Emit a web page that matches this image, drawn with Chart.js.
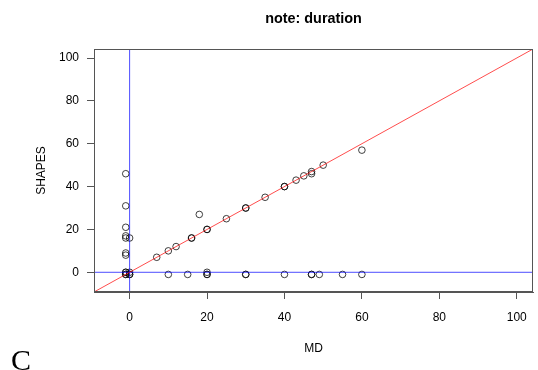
<!DOCTYPE html>
<html>
<head>
<meta charset="utf-8">
<script src="https://cdn.jsdelivr.net/npm/chart.js@4"></script>
<style>
  body { margin: 0; background: #fff; }
  #wrap { position: relative; width: 538px; height: 370px; }
  #panel { position: absolute; left: 11px; top: 345px; font: 30px/30px "Liberation Serif", serif; color: #000; }
</style>
</head>
<body>
<div id="wrap">
  <canvas id="scatterChart" width="538" height="370"></canvas>
  <div id="panel">C</div>
</div>
<script>
// MD (x) and SHAPES (y) pairs, -1 looks like the "missing" code
const md =     [-1, -1, -1, -1, -1, -1, -1, -1, -1, -1, -1, 0, 0, 0, 0,
                7, 10, 12, 16, 16, 18, 20, 20, 25, 30, 30, 35, 40, 40, 43, 45, 47, 47, 50, 60,
                10, 15, 20, 20, 20, 30, 30, 40, 47, 47, 49, 55, 60];
const shapes = [46, 31, 21, 17, 16, 9, 8, 0, 0, -1, -1, 16, 0, -1, -1,
                7, 10, 12, 16, 16, 27, 20, 20, 25, 30, 30, 35, 40, 40, 43, 45, 46, 47, 50, 57,
                -1, -1, 0, -1, -1, -1, -1, -1, -1, -1, -1, -1, -1];

const tickValues = [0, 20, 40, 60, 80, 100];
const axisMin = -9.2;
const axisMax = 104.2;
const chartTitle = 'note: duration';

const points = md.map((x, i) => ({ x: x, y: shapes[i] }));

const ctx = document.getElementById('scatterChart').getContext('2d');

// box round the plot area (R's box()) and the title centred over the plot
const boxPlugin = {
    id: 'box',
    afterDraw(chart) {
        const a = chart.chartArea;
        const c = chart.ctx;
        c.save();
        c.strokeStyle = '#555';
        c.lineWidth = 1;
        c.strokeRect(Math.round(a.left) + 0.5, Math.round(a.top) + 0.5,
                     Math.round(a.right - a.left) - 1, Math.round(a.bottom - a.top) - 1);
        c.fillStyle = '#000';
        c.font = 'bold 14.4px "Liberation Sans"';
        c.textAlign = 'center';
        c.textBaseline = 'middle';
        c.fillText(chartTitle, (a.left + a.right) / 2, 19);
        c.restore();
    }
};

function axisOptions(titleText, isX) {
    return {
        type: 'linear',
        min: axisMin,
        max: axisMax,
        afterBuildTicks: (scale) => { scale.ticks = tickValues.map(v => ({ value: v })); },
        afterFit: (scale) => {
            if (isX) scale.height = 78; else scale.width = 94;
        },
        grid: { drawOnChartArea: false, drawTicks: true, tickLength: 7, color: '#555' },
        border: { display: true, color: '#555' },
        ticks: {
            color: '#000',
            padding: isX ? 11 : 8,
            maxRotation: 0,
            font: { family: 'Liberation Sans', size: 12 },
            callback: (v) => String(v)
        },
        title: {
            display: true,
            text: titleText,
            color: '#000',
            font: { family: 'Liberation Sans', size: 12 },
            padding: isX ? { top: 0, bottom: 14 } : { top: 34, bottom: 0 }
        }
    };
}

new Chart(ctx, {
    type: 'scatter',
    data: {
        datasets: [
            {
                type: 'line',
                data: [{ x: axisMin, y: axisMin }, { x: axisMax, y: axisMax }],
                borderColor: 'rgba(255, 0, 0, 0.7)',
                borderWidth: 1,
                pointRadius: 0
            },
            {
                type: 'line',
                data: [{ x: axisMin, y: 0 }, { x: axisMax, y: 0 }],
                borderColor: 'rgba(0, 0, 255, 0.7)',
                borderWidth: 1,
                pointRadius: 0
            },
            {
                type: 'line',
                data: [{ x: 0, y: axisMin }, { x: 0, y: axisMax }],
                borderColor: 'rgba(0, 0, 255, 0.7)',
                borderWidth: 1,
                pointRadius: 0
            },
            {
                label: 'SHAPES vs MD',
                data: points,
                pointStyle: 'circle',
                pointRadius: 3.3,
                pointBorderWidth: 1,
                pointBorderColor: 'rgba(0, 0, 0, 0.75)',
                pointBackgroundColor: 'rgba(0, 0, 0, 0)'
            }
        ]
    },
    options: {
        responsive: false,
        animation: false,
        devicePixelRatio: 1,
        layout: { padding: { left: 0, right: 2, top: 49, bottom: 0 } },
        plugins: {
            legend: { display: false },
            tooltip: { enabled: false },
            title: { display: false }
        },
        scales: {
            x: axisOptions('MD', true),
            y: axisOptions('SHAPES', false)
        }
    },
    plugins: [boxPlugin]
});
</script>
</body>
</html>
